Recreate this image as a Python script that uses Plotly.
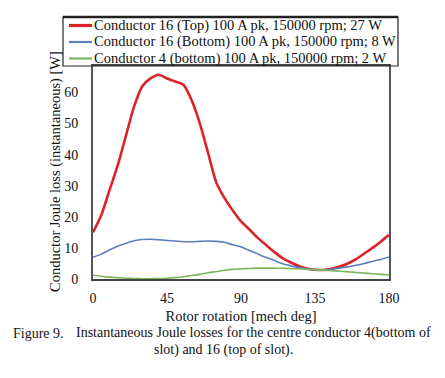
import plotly.graph_objects as go

# ---- data ----
rotor_deg = list(range(0, 181, 5))
top16 = [15, 20.5, 28.5, 36.5, 46, 55.5, 62, 64.5, 65.7, 64.5, 63.5, 62.5, 57.5, 50, 40.5,
         31, 26, 22, 18.5, 16, 13.3, 11, 8.8, 6.8, 5.4, 4.2, 3.4, 3, 2.9, 3.3, 4, 5, 6.4,
         8.2, 10, 12, 14.2]
bottom16 = [7, 8, 9.3, 10.5, 11.5, 12.3, 12.7, 12.8, 12.6, 12.4, 12.2, 12, 12, 12.1, 12.2,
            12.1, 11.8, 11, 10.3, 9.2, 8.1, 7, 6, 5, 4.3, 3.7, 3.3, 3, 2.9, 3.1, 3.5, 3.9,
            4.4, 5, 5.7, 6.3, 7.1]
bottom4 = [1.2, 0.9, 0.6, 0.4, 0.25, 0.15, 0.1, 0.1, 0.15, 0.25, 0.45, 0.75, 1.1, 1.5, 2,
           2.4, 2.8, 3.1, 3.25, 3.4, 3.5, 3.5, 3.5, 3.45, 3.4, 3.3, 3.1, 3, 2.85, 2.7, 2.5,
           2.35, 2.1, 1.9, 1.7, 1.5, 1.3]
series_names = [
    "Conductor 16 (Top) 100 A pk, 150000 rpm; 27 W",
    "Conductor 16 (Bottom) 100 A pk, 150000 rpm; 8 W",
    "Conductor 4 (bottom) 100 A pk, 150000 rpm; 2 W",
]
x_ticks = [0, 45, 90, 135, 180]
y_ticks = [0, 10, 20, 30, 40, 50, 60]
caption_line1 = "Instantaneous Joule losses for the centre conductor 4(bottom of"
caption_line2 = "slot) and 16 (top of slot)."

colors = ["#dd2229", "#5b7fbe", "#7ab55c"]
widths = [2.6, 1.6, 1.6]
FONT = "Liberation Serif, Times New Roman, serif"

# page body margin offset (figure is drawn at 8,8 in the page)
OX, OY = 8, 8
W, H = 445 - OX, 378 - OY
# plot area in screen pixels
SX0, SX1, SY0, SY1 = 93, 389, 66, 279
L, T = SX0 - OX, SY0 - OY
R, B = W - (SX1 - OX), H - (SY1 - OY)
PW, PH = SX1 - SX0, SY1 - SY0


def px_x(px):
    return (px - SX0) / PW


def px_y(py):
    return (SY1 - py) / PH


fig = go.Figure()
for name, ys, c, w in zip(series_names, [top16, bottom16, bottom4], colors, widths):
    fig.add_trace(go.Scatter(x=rotor_deg, y=ys, name=name, mode="lines",
                             line=dict(color=c, width=w, shape="spline", smoothing=0.7),
                             showlegend=False))

shapes = []
annotations = []
# legend box
shapes.append(dict(type="rect", xref="paper", yref="paper", x0=px_x(63), x1=px_x(398),
                   y0=px_y(66), y1=px_y(17), line=dict(color="#222", width=1.2),
                   fillcolor="rgba(0,0,0,0)"))
shapes.append(dict(type="line", xref="paper", yref="paper", x0=px_x(63), x1=px_x(398),
                   y0=px_y(17), y1=px_y(17), line=dict(color="#222", width=2.4)))
rows = [25.5, 42, 58.5]
for name, c, w, ry in zip(series_names, colors, widths, rows):
    shapes.append(dict(type="line", xref="paper", yref="paper", x0=px_x(69), x1=px_x(92),
                       y0=px_y(ry), y1=px_y(ry), line=dict(color=c, width=w + 0.6)))
    annotations.append(dict(text=name, xref="paper", yref="paper", x=px_x(92), y=px_y(ry),
                            xanchor="left", yanchor="middle", showarrow=False,
                            font=dict(family=FONT, size=14.5, color="#111")))

# y axis title
annotations.append(dict(text="Conductor Joule loss (instantaneous) [W]", xref="paper",
                        yref="paper", x=px_x(55), y=px_y(172), textangle=-90,
                        xanchor="center", yanchor="middle", showarrow=False,
                        font=dict(family=FONT, size=14.5, color="#111")))
# caption
annotations.append(dict(text="Figure 9.", xref="paper", yref="paper", x=px_x(11), y=px_y(333),
                        xanchor="left", yanchor="middle", showarrow=False,
                        font=dict(family=FONT, size=14, color="#111")))
annotations.append(dict(text=caption_line1, xref="paper", yref="paper", x=px_x(74), y=px_y(333),
                        xanchor="left", yanchor="middle", showarrow=False,
                        font=dict(family=FONT, size=14, color="#111")))
annotations.append(dict(text=caption_line2, xref="paper", yref="paper", x=px_x(152), y=px_y(350),
                        xanchor="left", yanchor="middle", showarrow=False,
                        font=dict(family=FONT, size=14, color="#111")))

fig.update_layout(
    width=W, height=H,
    margin=dict(l=L, r=R, t=T, b=B, pad=0, autoexpand=False),
    paper_bgcolor="white", plot_bgcolor="white",
    font=dict(family=FONT, size=14, color="#111"),
    shapes=shapes, annotations=annotations,
    xaxis=dict(range=[0, 180], tickvals=x_ticks, showgrid=False, zeroline=False,
               showline=True, linecolor="#444", linewidth=2, mirror=True,
               ticks="", ticklabelstandoff=5,
               title=dict(text="Rotor rotation [mech deg]", standoff=6,
                          font=dict(family=FONT, size=14.5))),
    yaxis=dict(range=[0, 68.5], tickvals=y_ticks, showgrid=False, zeroline=False,
               showline=True, linecolor="#555", linewidth=2, mirror=True,
               ticks="", ticklabelstandoff=10),
)

fig.write_html("out.html")
